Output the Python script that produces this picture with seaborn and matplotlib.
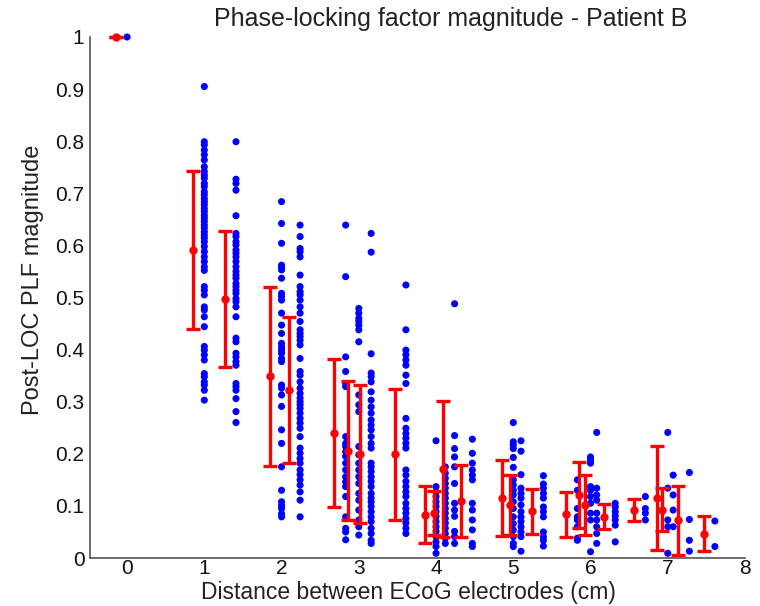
import numpy as np
import pandas as pd
import matplotlib
matplotlib.use("Agg")
import matplotlib.pyplot as plt
import seaborn as sns

# ---- data ----
distances = [0.0, 1.0, 1.41, 2.0, 2.24, 2.83, 3.0, 3.16, 3.61, 4.0, 4.12, 4.24, 4.47,
             5.0, 5.10, 5.39, 5.83, 6.0, 6.08, 6.32, 6.71, 7.0, 7.07, 7.28, 7.61]

plf_mean = [1.0, 0.591, 0.497, 0.349, 0.322, 0.239, 0.206, 0.200, 0.199, 0.083, 0.086, 0.171, 0.109,
            0.116, 0.102, 0.090, 0.084, 0.121, 0.102, 0.079, 0.092, 0.115, 0.093, 0.072, 0.047]
plf_std = [0.0, 0.151, 0.131, 0.172, 0.140, 0.142, 0.134, 0.132, 0.126, 0.055, 0.042, 0.131, 0.069,
           0.073, 0.057, 0.043, 0.043, 0.063, 0.057, 0.024, 0.021, 0.100, 0.042, 0.066, 0.034]

pts_d000 = [1.0]
pts_d100 = [0.905, 0.799, 0.793, 0.783, 0.774, 0.764, 0.751, 0.742, 0.735, 0.729, 0.719, 0.713, 0.703,
            0.697, 0.690, 0.684, 0.678, 0.671, 0.665, 0.658, 0.652, 0.646, 0.639, 0.633, 0.626, 0.620,
            0.614, 0.607, 0.598, 0.588, 0.578, 0.569, 0.559, 0.552, 0.521, 0.514, 0.505, 0.482, 0.476,
            0.463, 0.444, 0.406, 0.399, 0.390, 0.380, 0.354, 0.348, 0.338, 0.332, 0.322, 0.303]
pts_d141 = [0.799, 0.727, 0.719, 0.706, 0.657, 0.623, 0.617, 0.607, 0.601, 0.591, 0.585, 0.578, 0.569,
            0.559, 0.550, 0.543, 0.537, 0.527, 0.521, 0.514, 0.508, 0.498, 0.492, 0.482, 0.463, 0.422,
            0.415, 0.393, 0.386, 0.377, 0.370, 0.335, 0.329, 0.322, 0.306, 0.281, 0.260]
pts_d200 = [0.684, 0.642, 0.604, 0.562, 0.558, 0.553, 0.537, 0.508, 0.502, 0.495, 0.470, 0.447, 0.431,
            0.412, 0.405, 0.399, 0.393, 0.383, 0.377, 0.332, 0.326, 0.313, 0.291, 0.246, 0.220, 0.175,
            0.130, 0.108, 0.101, 0.095, 0.085, 0.079]
pts_d224 = [0.639, 0.617, 0.594, 0.588, 0.578, 0.543, 0.521, 0.511, 0.505, 0.495, 0.482, 0.470, 0.454,
            0.438, 0.431, 0.425, 0.418, 0.409, 0.383, 0.358, 0.351, 0.338, 0.326, 0.316, 0.307, 0.300,
            0.294, 0.287, 0.278, 0.268, 0.259, 0.249, 0.233, 0.211, 0.201, 0.191, 0.182, 0.169, 0.160,
            0.150, 0.140, 0.127, 0.111, 0.079]
pts_d283 = [0.639, 0.540, 0.386, 0.358, 0.335, 0.329, 0.233, 0.220, 0.214, 0.204, 0.195, 0.182, 0.169,
            0.156, 0.146, 0.137, 0.118, 0.079, 0.057, 0.050, 0.035]
pts_d300 = [0.479, 0.470, 0.460, 0.454, 0.447, 0.438, 0.415, 0.313, 0.294, 0.281, 0.214, 0.198, 0.182,
            0.169, 0.156, 0.143, 0.124, 0.111, 0.092, 0.073, 0.060, 0.044]
pts_d316 = [0.623, 0.587, 0.392, 0.355, 0.348, 0.338, 0.319, 0.303, 0.290, 0.278, 0.265, 0.255, 0.246,
            0.233, 0.220, 0.211, 0.182, 0.175, 0.166, 0.156, 0.147, 0.137, 0.124, 0.115, 0.108, 0.099,
            0.089, 0.079, 0.070, 0.057, 0.047, 0.034, 0.028]
pts_d361 = [0.524, 0.438, 0.399, 0.390, 0.380, 0.370, 0.351, 0.335, 0.268, 0.249, 0.239, 0.230, 0.220,
            0.211, 0.169, 0.159, 0.147, 0.137, 0.127, 0.118, 0.105, 0.095, 0.086, 0.076, 0.067, 0.057,
            0.047]
pts_d400 = [0.225, 0.137, 0.127, 0.118, 0.108, 0.099, 0.089, 0.080, 0.070, 0.060, 0.051, 0.041, 0.031,
            0.022, 0.009]
pts_d412 = [0.175, 0.163, 0.153, 0.143, 0.134, 0.124, 0.115, 0.105, 0.095, 0.086, 0.076, 0.067, 0.057,
            0.047, 0.038, 0.028]
pts_d424 = [0.488, 0.235, 0.210, 0.194, 0.175, 0.143, 0.105, 0.092, 0.080, 0.051, 0.041, 0.028]
pts_d447 = [0.228, 0.201, 0.182, 0.169, 0.159, 0.150, 0.105, 0.092, 0.073, 0.054, 0.028, 0.022]
pts_d500 = [0.260, 0.223, 0.217, 0.210, 0.193, 0.174, 0.150, 0.140, 0.130, 0.121, 0.108, 0.095, 0.079,
            0.066, 0.054, 0.041, 0.028, 0.022]
pts_d510 = [0.225, 0.205, 0.160, 0.134, 0.124, 0.115, 0.102, 0.089, 0.079, 0.070, 0.060, 0.050, 0.041,
            0.013]
pts_d539 = [0.158, 0.142, 0.134, 0.124, 0.115, 0.098, 0.089, 0.079, 0.050, 0.041, 0.034, 0.023]
pts_d583 = [0.150, 0.130, 0.095, 0.079, 0.073, 0.060, 0.038, 0.034]
pts_d600 = [0.194, 0.188, 0.182, 0.137, 0.130, 0.118, 0.105, 0.086, 0.073, 0.012]
pts_d608 = [0.241, 0.134, 0.121, 0.111, 0.086, 0.073, 0.060, 0.047, 0.028]
pts_d632 = [0.105, 0.098, 0.089, 0.081, 0.073, 0.063, 0.031]
pts_d671 = [0.118, 0.095, 0.086, 0.073]
pts_d700 = [0.241, 0.134, 0.073, 0.060, 0.009]
pts_d707 = [0.159, 0.121, 0.092, 0.060]
pts_d728 = [0.164, 0.074, 0.034, 0.013]
pts_d761 = [0.071, 0.022]

x_ticks = [0, 1, 2, 3, 4, 5, 6, 7, 8]
y_ticks = [0, 0.1, 0.2, 0.3, 0.4, 0.5, 0.6, 0.7, 0.8, 0.9, 1.0]
y_tick_labels = ["0", "0.1", "0.2", "0.3", "0.4", "0.5", "0.6", "0.7", "0.8", "0.9", "1"]

title_text = "Phase-locking factor magnitude - Patient B"
x_label = "Distance between ECoG electrodes (cm)"
y_label = "Post-LOC PLF magnitude"

# ---- build table ----
columns = [pts_d000, pts_d100, pts_d141, pts_d200, pts_d224, pts_d283, pts_d300, pts_d316, pts_d361,
           pts_d400, pts_d412, pts_d424, pts_d447, pts_d500, pts_d510, pts_d539, pts_d583, pts_d600,
           pts_d608, pts_d632, pts_d671, pts_d700, pts_d707, pts_d728, pts_d761]
rows = []
for d, vals in zip(distances, columns):
    for v in vals:
        rows.append((d, v))
df = pd.DataFrame(rows, columns=["distance", "plf"])

red_offset = 0.145  # horizontal shift of mean/std markers

# ---- figure ----
sns.set_theme(style="white")
plt.rcParams['font.family'] = ['Liberation Sans', 'DejaVu Sans']

fig = plt.figure(figsize=(7.6, 6.06), dpi=100)
ax = fig.add_axes([90 / 760, 1 - 558 / 606, (745 - 90) / 760, (558 - 37) / 606])

sns.scatterplot(data=df, x="distance", y="plf", ax=ax, color="#0000ff",
                s=26, linewidth=0, edgecolor="none", zorder=3, clip_on=False)

ax.errorbar(np.array(distances) - red_offset, plf_mean, yerr=plf_std, fmt="o",
            color="#ff0000", ecolor="#ff0000", markersize=5, elinewidth=2.4,
            capsize=5, capthick=2.4, zorder=4, clip_on=False)

ax.set_xlim(-0.48, 8)
ax.set_ylim(0, 1)
ax.set_xticks(x_ticks)
ax.set_yticks(y_ticks)
ax.set_yticklabels(y_tick_labels)
ax.set_xlabel("")
ax.set_ylabel("")

for side in ["top", "right"]:
    ax.spines[side].set_visible(False)
for side in ["left", "bottom"]:
    ax.spines[side].set_color("#555555")
    ax.spines[side].set_linewidth(1.2)

ax.tick_params(axis="both", direction="in", length=5, width=1.0, color="#333333",
               labelsize=15, labelcolor="#111111")
ax.tick_params(axis="y", pad=4)
ax.tick_params(axis="x", pad=1)

fig.text(451 / 760, 1 - 19 / 606, title_text, ha="center", va="center", fontsize=18, color="#222222")
fig.text(408 / 760, 1 - 592 / 606, x_label, ha="center", va="center", fontsize=16.5, color="#222222")
fig.text(33 / 760, 1 - 280 / 606, y_label, ha="center", va="center", fontsize=17, rotation=90,
         color="#222222")

fig.savefig("out.png", dpi=100)
